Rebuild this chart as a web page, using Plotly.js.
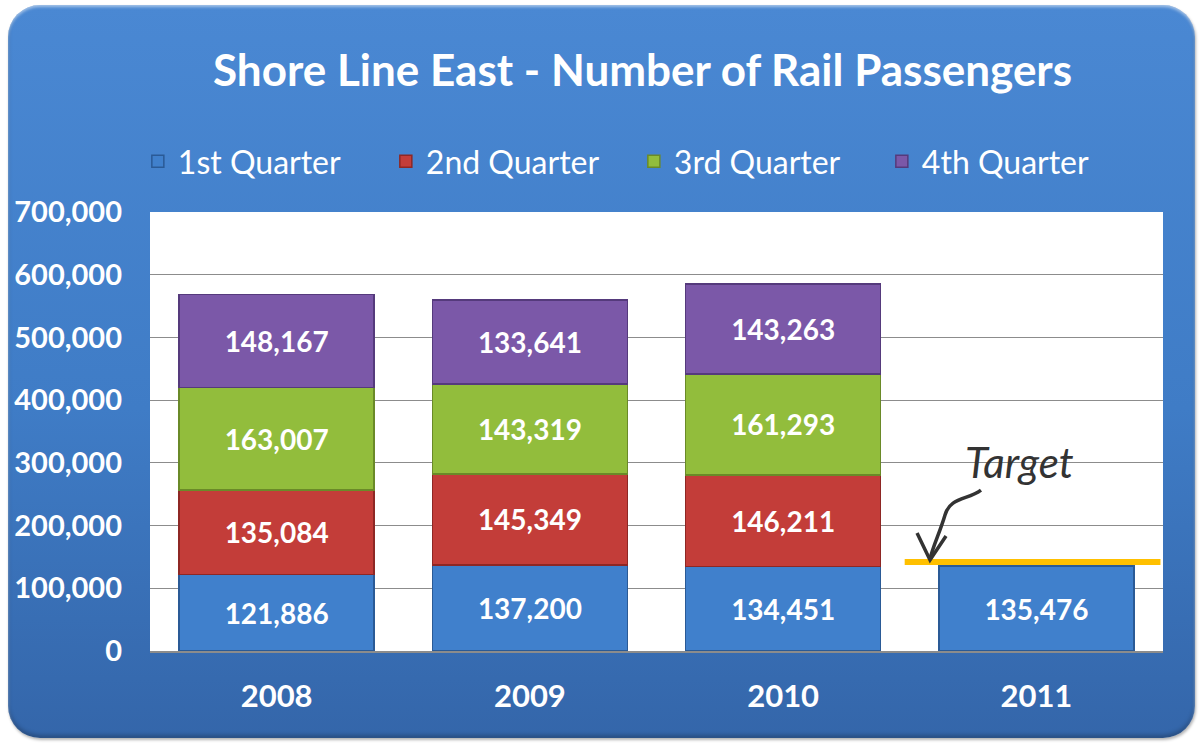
<!DOCTYPE html>
<html>
<head>
<meta charset="utf-8">
<script src="https://cdn.plot.ly/plotly-3.0.1.min.js"></script>
<style>
  html, body { margin: 0; padding: 0; background: #fff; }
  #frame {
    position: absolute; left: 8px; top: 5px; width: 1187px; height: 733px;
    border-radius: 32px;
    background: linear-gradient(to bottom, #4a88d3 0%, #3f7cc6 55%, #3466aa 100%);
    box-shadow: inset 0 2px 3px rgba(255,255,255,0.5), inset 0 -3px 4px rgba(0,0,0,0.25), 1px 2px 3px rgba(0,0,0,0.3);
  }
  #chart { position: absolute; left: 0; top: 0; width: 1201px; height: 744px; }
</style>
</head>
<body>
<div id="frame"></div>
<div id="chart"></div>
<script>
const years = ['2008', '2009', '2010', '2011'];
const q1 = [121886, 137200, 134451, 135476];
const q2 = [135084, 145349, 146211, null];
const q3 = [163007, 143319, 161293, null];
const q4 = [148167, 133641, 143263, null];
const seriesNames = ['1st Quarter', '2nd Quarter', '3rd Quarter', '4th Quarter'];
const seriesColors = ['#4080cc', '#c33d39', '#92bd3c', '#7b58a8'];
const edgeColors = ['#2a5a96', '#8e2724', '#6a8a28', '#553a7c'];
const targetYear = '2011';
const targetValue = 142000;

const font = 'Lato, "Open Sans", sans-serif';

// target line spans a bit wider than the 2011 bar, mostly to the left
const ti = years.indexOf(targetYear);

// hand-drawn squiggly arrow, written in page pixels then mapped to paper coords
const M = { l: 150, r: 38, t: 212, b: 93 };
const plotW = 1201 - M.l - M.r;
const plotH = 744 - M.t - M.b;
const px = x => ((x - M.l) / plotW).toFixed(4);
const py = y => ((744 - M.b - y) / plotH).toFixed(4);
const pt = (x, y) => px(x) + ',' + py(y);
const squiggle = 'M' + pt(981, 490) +
  ' C' + pt(968, 500) + ' ' + pt(950, 497) + ' ' + pt(945, 515) +
  ' C' + pt(940, 532) + ' ' + pt(933, 546) + ' ' + pt(930, 559);
const arrowHead = 'M' + pt(917, 533) + ' L' + pt(930, 560) + ' L' + pt(946, 536);

const traces = [q1, q2, q3, q4].map((vals, i) => ({
  type: 'bar',
  name: seriesNames[i],
  x: years,
  y: vals,
  marker: { color: seriesColors[i], line: { color: edgeColors[i], width: 1.5 } },
  texttemplate: '%{y:,}',
  textposition: 'inside',
  insidetextanchor: 'middle',
  textfont: { color: '#ffffff', size: 28, family: font, weight: 'bold' },
  hoverinfo: 'skip'
}));

const layout = {
  width: 1201,
  height: 744,
  barmode: 'stack',
  bargap: 0.23,
  paper_bgcolor: 'rgba(0,0,0,0)',
  plot_bgcolor: '#ffffff',
  margin: M,
  font: { family: font, color: '#ffffff' },
  title: {
    text: '<b>Shore Line East - Number of Rail Passengers</b>',
    font: { size: 44, color: '#ffffff', family: font },
    x: 0.535, xanchor: 'center', y: 0.905, yanchor: 'middle'
  },
  showlegend: true,
  legend: {
    orientation: 'h',
    x: -0.012, xanchor: 'left',
    y: 1.115, yanchor: 'middle',
    font: { size: 32, color: '#ffffff', family: font },
    itemwidth: 30,
    entrywidth: 203,
    entrywidthmode: 'pixels',
    traceorder: 'normal',
    bgcolor: 'rgba(0,0,0,0)'
  },
  xaxis: {
    type: 'category',
    range: [-0.5, 3.5],
    tickfont: { size: 31, color: '#ffffff', family: font, weight: 'bold' },
    ticklabelstandoff: 17,
    showline: true,
    linecolor: '#8c8c8c',
    linewidth: 1.5,
    ticks: ''
  },
  yaxis: {
    range: [0, 700000],
    dtick: 100000,
    tickformat: ',d',
    tickfont: { size: 29, color: '#ffffff', family: font, weight: 'bold' },
    ticklabelstandoff: 27,
    gridcolor: '#8c8c8c',
    gridwidth: 1.2,
    zeroline: false,
    showline: false
  },
  shapes: [
    {
      type: 'line',
      xref: 'x', yref: 'y',
      x0: ti - 0.52,
      x1: ti + 0.49,
      y0: targetValue, y1: targetValue,
      line: { color: '#ffc000', width: 6 }
    },
    {
      type: 'path', xref: 'paper', yref: 'paper',
      path: squiggle,
      line: { color: '#333333', width: 3.5 }
    },
    {
      type: 'path', xref: 'paper', yref: 'paper',
      path: arrowHead,
      line: { color: '#333333', width: 3.5 }
    }
  ],
  annotations: [{
    xref: 'paper', yref: 'paper',
    x: px(1020), y: py(462),
    xanchor: 'center', yanchor: 'middle',
    text: '<i>Target</i>',
    showarrow: false,
    font: { size: 42, color: '#333333', family: font }
  }]
};

Plotly.newPlot('chart', traces, layout, { staticPlot: true });
</script>
</body>
</html>
